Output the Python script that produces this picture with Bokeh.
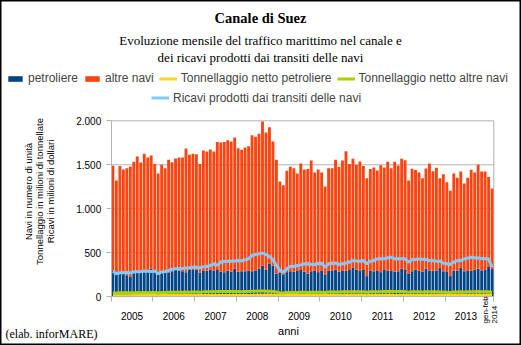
import numpy as np
from bokeh.plotting import figure
from bokeh.models import (ColumnDataSource, Range1d, FixedTicker, Label, Legend, LegendItem)
from bokeh.embed import file_html
from bokeh.resources import INLINE

# ---- data (monthly, Jan 2005 .. Feb 2014) ----
anni = ["2005", "2006", "2007", "2008", "2009", "2010", "2011", "2012", "2013"]
ultimo_periodo = ["gen-feb", "2014"]

navi_totale = [
    1490, 1322, 1485, 1447, 1462, 1481, 1534, 1595, 1527, 1625, 1583, 1606,
    1508, 1401, 1500, 1462, 1557, 1530, 1572, 1583, 1583, 1686, 1614, 1625,
    1621, 1508, 1663, 1652, 1674, 1652, 1758, 1754, 1758, 1780, 1765, 1811,
    1689, 1670, 1697, 1712, 1837, 1818, 1852, 1992, 1867, 1928, 1765, 1557,
    1311, 1269, 1432, 1477, 1462, 1401, 1515, 1447, 1451, 1549, 1413, 1447,
    1413, 1254, 1462, 1462, 1557, 1477, 1549, 1655, 1508, 1568, 1500, 1538,
    1485, 1348, 1451, 1470, 1436, 1496, 1470, 1534, 1462, 1534, 1492, 1568,
    1553, 1322, 1455, 1440, 1413, 1348, 1458, 1515, 1428, 1466, 1348, 1394,
    1303, 1204, 1401, 1352, 1424, 1288, 1352, 1443, 1413, 1500, 1424, 1424,
    1360, 1231,
]
petroliere = [
    300, 255, 275, 275, 245, 230, 290, 300, 285, 290, 300, 320,
    305, 250, 280, 270, 275, 290, 305, 300, 290, 280, 310, 305,
    310, 275, 300, 295, 310, 300, 305, 285, 280, 300, 285, 320,
    285, 290, 290, 295, 290, 300, 320, 356, 310, 380, 355, 265,
    275, 255, 280, 290, 285, 300, 305, 285, 265, 290, 300, 280,
    300, 255, 295, 300, 310, 285, 300, 295, 305, 330, 310, 300,
    305, 235, 300, 290, 300, 280, 305, 295, 300, 285, 290, 320,
    305, 260, 290, 310, 295, 285, 320, 300, 300, 295, 330, 290,
    290, 235, 300, 295, 330, 290, 300, 295, 310, 320, 300, 310,
    340, 315,
]
ton_petroliere = [
    14, 12, 13, 13, 12, 12, 14, 15, 14, 15, 15, 16,
    15, 13, 14, 14, 14, 15, 16, 16, 15, 15, 16, 16,
    16, 14, 15, 15, 16, 16, 16, 15, 15, 16, 15, 17,
    15, 15, 16, 16, 16, 17, 18, 19, 17, 20, 19, 17,
    15, 14, 15, 16, 16, 17, 17, 16, 15, 17, 17, 16,
    17, 14, 16, 17, 17, 16, 17, 17, 17, 19, 18, 17,
    17, 13, 17, 16, 17, 16, 17, 17, 17, 16, 16, 18,
    17, 15, 17, 18, 17, 16, 19, 18, 18, 17, 19, 17,
    17, 14, 18, 17, 19, 17, 18, 18, 18, 19, 18, 18,
    20, 18,
]
ton_altre = [
    44, 42, 45, 45, 46, 46, 47, 48, 47, 48, 47, 48,
    49, 45, 50, 50, 51, 51, 53, 53, 52, 54, 53, 54,
    55, 51, 56, 56, 57, 57, 59, 59, 59, 60, 59, 61,
    59, 57, 60, 61, 63, 64, 65, 66, 64, 64, 60, 55,
    47, 44, 49, 50, 50, 49, 51, 51, 50, 52, 51, 52,
    52, 48, 54, 54, 55, 54, 56, 58, 56, 57, 56, 58,
    58, 52, 57, 58, 58, 58, 60, 60, 59, 60, 59, 60,
    59, 53, 57, 57, 56, 54, 57, 58, 56, 57, 54, 55,
    53, 49, 56, 55, 57, 55, 57, 58, 57, 59, 57, 58,
    57, 51,
]
ricavi = [
    291, 262, 272, 272, 275, 272, 282, 286, 286, 290, 290, 288,
    292, 262, 282, 286, 300, 310, 318, 318, 322, 328, 330, 336,
    336, 330, 340, 345, 356, 375, 356, 395, 401, 405, 405, 408,
    412, 410, 420, 431, 469, 480, 488, 496, 480, 458, 420, 356,
    300, 280, 318, 344, 344, 355, 363, 372, 375, 370, 367, 378,
    382, 336, 375, 380, 382, 367, 375, 382, 395, 412, 408, 405,
    412, 375, 405, 412, 431, 431, 431, 443, 450, 431, 431, 431,
    431, 395, 420, 425, 431, 428, 424, 412, 410, 405, 405, 382,
    375, 367, 395, 412, 412, 431, 440, 450, 443, 440, 436, 431,
    431, 336,
]
y_ticks = [0, 500, 1000, 1500, 2000]
y_tick_labels = ["0", "500", "1.000", "1.500", "2.000"]

n = len(navi_totale)
altre_navi = [t - p for t, p in zip(navi_totale, petroliere)]
src = ColumnDataSource(dict(
    x=[i + 0.5 for i in range(n)],
    petroliere=petroliere, altre=altre_navi,
    ton_pet=ton_petroliere, ton_altre=ton_altre, ricavi=ricavi,
))

BLUE, ORANGE, YELLOW, GREEN, LIGHT = "#004586", "#ff420e", "#ffd320", "#aecf00", "#83caff"
GREY = "#b3b3b3"

# canvas geometry: plot area spans x 110.7..493.3 px, y 296.3 (0) .. 120.3 (2000)
W, H = 521, 345
X0, X1 = 110.7, 493.3
Y0, Y2000 = 296.3, 120.3
ppx = (X1 - X0) / n
ppy = (Y0 - Y2000) / y_ticks[-1]
x_rng = Range1d(-X0 / ppx, (W - X0) / ppx)
y_rng = Range1d(-(H - Y0) / ppy, Y0 / ppy)

p = figure(width=W, height=H, output_backend="svg", toolbar_location=None,
           x_range=x_rng, y_range=y_rng, title=None,
           min_border_left=0, min_border_right=0, min_border_top=0, min_border_bottom=0)
p.background_fill_color = "#ffffff"
p.border_fill_color = "#ffffff"
p.outline_line_color = "#000000"
p.outline_line_width = 2
p.xgrid.visible = False
p.ygrid.visible = False

# grid lines and right frame edge (guides)
p.segment(x0=[0] * 4, x1=[n] * 4, y0=y_ticks[1:], y1=y_ticks[1:], line_color=GREY, line_width=1)
p.segment(x0=[n], x1=[n], y0=[0], y1=[y_ticks[-1]], line_color=GREY, line_width=1)

bars = p.vbar_stack(["petroliere", "altre"], x="x", width=0.82, color=[BLUE, ORANGE],
                    line_color=None, source=src)
l_pet = p.line("x", "ton_pet", source=src, line_color=YELLOW, line_width=3)
l_alt = p.line("x", "ton_altre", source=src, line_color=GREEN, line_width=3)
l_ric = p.line("x", "ricavi", source=src, line_color=LIGHT, line_width=3)

# axes (placed at data zero, inside the frame)
xa = p.xaxis[0]
xa.fixed_location = 0
xa.bounds = (0, n)
year_centers = [6 + 12 * i for i in range(len(anni))]
xa.ticker = FixedTicker(ticks=year_centers, minor_ticks=[12 * i for i in range(len(anni) + 1)] + [n])
xa.major_label_overrides = {c: a for c, a in zip(year_centers, anni)}
xa.major_tick_out = 0
xa.major_tick_in = 0
xa.minor_tick_out = 5
xa.minor_tick_in = 0
xa.minor_tick_line_color = GREY
xa.axis_line_color = GREY
xa.major_label_standoff = 10
xa.major_label_text_font = "Liberation Sans"
xa.major_label_text_font_size = "10px"
xa.major_label_text_color = "#000000"

ya = p.yaxis[0]
ya.fixed_location = 0
ya.bounds = (0, y_ticks[-1])
ya.ticker = FixedTicker(ticks=y_ticks)
ya.major_label_overrides = {t: l for t, l in zip(y_ticks, y_tick_labels)}
ya.major_tick_out = 5
ya.major_tick_in = 0
ya.major_tick_line_color = GREY
ya.minor_tick_line_color = None
ya.axis_line_color = GREY
ya.major_label_standoff = 5
ya.major_label_text_font = "Liberation Sans"
ya.major_label_text_font_size = "10px"
ya.major_label_text_color = "#000000"


def lab(text, cx, cy, size, font="Liberation Sans", align="center", style="normal", angle=0.0,
        baseline="middle"):
    p.add_layout(Label(x=cx, y=H - cy, x_units="screen", y_units="screen", text=text,
                       text_font=font, text_font_size=size, text_align=align,
                       text_baseline=baseline, text_font_style=style, angle=angle,
                       text_color="#000000"))


lab("Canale di Suez", 260, 17, "14.5px", font="Liberation Serif", style="bold")
lab("Evoluzione mensile del traffico marittimo nel canale e", 260, 40, "13px", font="Liberation Serif")
lab("dei ricavi prodotti dai transiti delle navi", 260, 57, "13px", font="Liberation Serif")
lab("Navi in numero di unità", 28, 191, "9.5px", angle=np.pi / 2)
lab("Tonnellaggio in milioni di tonnellate", 39, 191, "9.5px", angle=np.pi / 2)
lab("Ricavi in milioni di dollari", 50, 191, "9.5px", angle=np.pi / 2)
lab("anni", 288, 330, "11px")
lab("(elab. inforMARE)", 5, 333, "12px", font="Liberation Serif", align="left")
lab(ultimo_periodo[0], 485, 323, "8px", align="left", angle=np.pi / 2)
lab(ultimo_periodo[1], 493.5, 323, "8px", align="left", angle=np.pi / 2)

leg_kw = dict(orientation="horizontal", padding=0, margin=0, spacing=5,
              glyph_width=18, glyph_height=7, label_height=14, label_standoff=4,
              label_text_font="Liberation Sans", label_text_font_size="12px",
              background_fill_alpha=0, border_line_color=None)
leg1 = Legend(items=[LegendItem(label="petroliere", renderers=[bars[0]]),
                     LegendItem(label="altre navi", renderers=[bars[1]]),
                     LegendItem(label="Tonnellaggio netto petroliere", renderers=[l_pet]),
                     LegendItem(label="Tonnellaggio netto altre navi", renderers=[l_alt])],
              location=(6, H - 85), **leg_kw)
leg2 = Legend(items=[LegendItem(label="Ricavi prodotti dai transiti delle navi", renderers=[l_ric])],
              location=(151, H - 104.5), **leg_kw)
p.add_layout(leg1, "center")
p.add_layout(leg2, "center")

open("out.html", "w").write(file_html(p, INLINE))
